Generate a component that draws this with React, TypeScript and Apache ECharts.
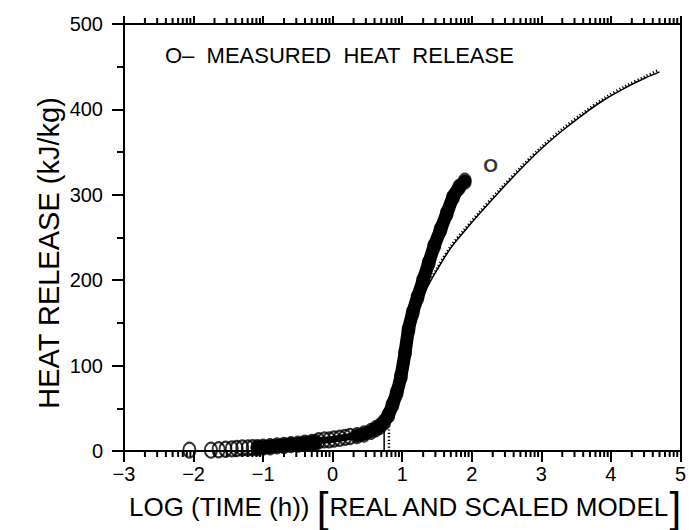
import React, { useEffect, useRef } from "react";
import * as echarts from "echarts";

const xTicks = [-3, -2, -1, 0, 1, 2, 3, 4, 5];
const xTickLabels = ["−3", "−2", "−1", "0", "1", "2", "3", "4", "5"];
const yTicks = [0, 100, 200, 300, 400, 500];
const yTickLabels = ["0", "100", "200", "300", "400", "500"];

// Measured heat release (open circles)
const measuredX = [
  -2.06, -1.75, -1.64, -1.54, -1.45, -1.38, -1.3, -1.22, -1.15, -1.08,
  -1.0, -0.9, -0.8, -0.7, -0.6, -0.5, -0.4, -0.3, -0.25,
  -0.2, -0.12, -0.05, 0.02, 0.1, 0.18, 0.25,
  0.35, 0.45, 0.55, 0.62, 0.68, 0.74, 0.8, 0.86, 0.92, 0.98,
  1.04, 1.09, 1.15, 1.22, 1.3, 1.38, 1.46, 1.55, 1.64, 1.73, 1.82, 1.9,
];
const measuredY = [
  1, 1, 1.5, 2, 2.5, 3, 3.5, 3.5, 4, 4,
  4.5, 5, 6, 6.5, 7.5, 8, 9, 10, 10,
  12, 13, 13, 14, 15, 16, 17,
  18, 20, 23, 26, 29, 34, 42, 54, 68, 87,
  115, 142, 162, 180, 200, 220, 240, 259, 278, 297, 309, 316,
];

// Model curves (solid = real, dotted = scaled)
const modelSolidX = [0.74, 0.74, 0.78, 0.85, 0.92, 1.0, 1.1, 1.2, 1.35, 1.5, 1.7, 1.9, 2.1, 2.4, 2.7, 3.0, 3.3, 3.6, 3.9, 4.2, 4.5, 4.7];
const modelSolidY = [0, 30, 45, 65, 85, 108, 137, 160, 190, 212, 238, 258, 277, 304, 330, 354, 375, 394, 411, 425, 437, 444];
const modelDottedX = [0.81, 0.81, 0.84, 0.9, 0.96, 1.02, 1.1, 1.2, 1.35, 1.5, 1.7, 1.9, 2.1, 2.4, 2.7, 3.0, 3.3, 3.6, 3.9, 4.2, 4.5, 4.68];
const modelDottedY = [0, 38, 55, 75, 95, 115, 140, 162, 192, 214, 240, 260, 279, 306, 332, 356, 377, 396, 413, 427, 439, 446];

// Log-decade minor tick positions (fraction of a decade: log10 of 2..9)
const minorTickFractions = [0.301, 0.477, 0.602, 0.699, 0.778, 0.845, 0.903, 0.954];

const curveLabelX = [2.27];
const curveLabelY = [334];
const curveLabelText = ["O"];

const legendText = "O–  MEASURED  HEAT  RELEASE";
const xTitleMain = "LOG (TIME (h))";
const xTitleBracketed = "REAL AND SCALED MODEL";
const yTitle = "HEAT RELEASE (kJ/kg)";

// x ranges where the measured circles merge into a solid band, with band width
const denseSegments = [
  { from: -1.08, to: -0.25, width: 14 },
  { from: -0.25, to: 0.35, width: 7 },
  { from: 0.35, to: 1.95, width: 13 },
];

const FONT = "Liberation Sans";

export default function App() {
  const ref = useRef<HTMLDivElement>(null);

  useEffect(() => {
    document.body.style.margin = "0";
    if (!ref.current) return;
    const chart = echarts.init(ref.current, null, { renderer: "svg" });

    const minorVals: number[] = [];
    for (let d = -3; d < 5; d++) {
      for (const f of minorTickFractions) minorVals.push(d + f);
    }

    const measuredPts = measuredX.map((x, i) => [x, measuredY[i]]);
    const segSeries = denseSegments.map((seg) => ({
      type: "line",
      data: measuredPts.filter((p) => p[0] >= seg.from && p[0] <= seg.to),
      showSymbol: false,
      symbol: "none",
      smooth: 0.3,
      lineStyle: { color: "#000", width: seg.width, cap: "round", join: "round" },
      z: 2,
    }));

    const axisCommon = {
      type: "value",
      min: -3,
      max: 5,
      interval: 1,
      splitLine: { show: false },
    };

    const textGraphics: any[] = [
      {
        type: "text",
        x: 165,
        y: 55,
        style: {
          text: legendText,
          fontSize: 22,
          fontFamily: FONT,
          fill: "#000",
          verticalAlign: "middle",
        },
      },
      {
        type: "text",
        x: 49,
        y: 253,
        rotation: Math.PI / 2,
        style: {
          text: yTitle,
          fontSize: 29,
          fontFamily: FONT,
          fill: "#000",
          align: "center",
          verticalAlign: "middle",
        },
      },
      {
        type: "text",
        x: 405,
        y: 507,
        style: {
          text: xTitleMain + " {br|[}" + xTitleBracketed + "{br|]}",
          fontSize: 26,
          fontFamily: FONT,
          fill: "#000",
          align: "center",
          verticalAlign: "middle",
          rich: {
            br: { fontSize: 42, fontFamily: FONT, fill: "#000" },
          },
        },
      },
    ];

    chart.setOption({
      animation: false,
      backgroundColor: "#fff",
      grid: { left: 124, right: 2, top: 24, bottom: 79, containLabel: false },
      xAxis: [
        {
          ...axisCommon,
          position: "bottom",
          axisLine: { show: true, onZero: false, lineStyle: { color: "#000", width: 2 } },
          axisTick: { show: true, inside: false, length: 11, lineStyle: { color: "#000", width: 2 } },
          axisLabel: {
            show: true,
            margin: 13,
            color: "#000",
            fontSize: 20,
            fontFamily: FONT,
            formatter: (v: number) => {
              const i = xTicks.indexOf(Math.round(v));
              return i >= 0 ? xTickLabels[i] : "";
            },
          },
        },
        {
          ...axisCommon,
          position: "top",
          axisLine: { show: true, onZero: false, lineStyle: { color: "#000", width: 2 } },
          axisLabel: { show: false },
          axisTick: { show: true, inside: false, length: 8, lineStyle: { color: "#000", width: 2 } },
        },
      ],
      yAxis: [
        {
          type: "value",
          min: 0,
          max: 500,
          interval: 100,
          position: "left",
          splitLine: { show: false },
          axisLine: { show: true, onZero: false, lineStyle: { color: "#000", width: 2 } },
          axisTick: { show: true, inside: false, length: 12, lineStyle: { color: "#000", width: 2 } },
          minorTick: { show: true, splitNumber: 2, length: 7, lineStyle: { color: "#000", width: 2 } },
          axisLabel: {
            margin: 21,
            color: "#000",
            fontSize: 20,
            fontFamily: FONT,
            formatter: (v: number) => {
              const i = yTicks.indexOf(Math.round(v));
              return i >= 0 ? yTickLabels[i] : "";
            },
          },
        },
        {
          type: "value",
          min: 0,
          max: 500,
          interval: 100,
          position: "right",
          splitLine: { show: false },
          axisLine: { show: true, onZero: false, lineStyle: { color: "#000", width: 2 } },
          axisTick: { show: false },
          axisLabel: { show: false },
        },
      ],
      series: [
        ...segSeries,
        {
          type: "scatter",
          data: measuredPts,
          symbol: "circle",
          symbolSize: [12, 15],
          itemStyle: { color: "rgba(255,255,255,0)", borderColor: "#000", borderWidth: 2 },
          z: 3,
        },
        {
          type: "line",
          data: modelSolidX.map((x, i) => [x, modelSolidY[i]]),
          showSymbol: false,
          symbol: "none",
          smooth: 0.3,
          lineStyle: { color: "#000", width: 1.5 },
          z: 4,
        },
        {
          type: "line",
          data: modelDottedX.map((x, i) => [x, modelDottedY[i]]),
          showSymbol: false,
          symbol: "none",
          smooth: 0.3,
          lineStyle: { color: "#000", width: 2.5, type: [1.2, 2.2] },
          z: 4,
        },
        {
          type: "scatter",
          data: curveLabelX.map((x, i) => [x, curveLabelY[i]]),
          symbolSize: 0,
          label: {
            show: true,
            position: "inside",
            formatter: (p: any) => curveLabelText[p.dataIndex],
            color: "#000",
            fontSize: 19,
            fontWeight: "bold",
            fontFamily: FONT,
          },
          z: 5,
        },
        {
          type: "scatter",
          clip: false,
          silent: true,
          data: minorVals.map((v) => [v, 500]),
          symbol: "rect",
          symbolSize: [2, 6],
          symbolOffset: [0, -3],
          itemStyle: { color: "#000", opacity: 1 },
          z: 6,
        },
      ],
      graphic: textGraphics,
    });

    // bottom log minor ticks placed through the axis scale
    const yBottom = chart.convertToPixel({ yAxisIndex: 0 }, 0) as number;
    const bottomTicks = minorVals.map((v) => {
      const px = chart.convertToPixel({ xAxisIndex: 0 }, v) as number;
      return {
        type: "rect",
        silent: true,
        z: 100,
        shape: { x: px - 1, y: yBottom, width: 2, height: 6 },
        style: { fill: "#000" },
      };
    });
    chart.setOption({ graphic: [...textGraphics, ...bottomTicks] });

    return () => chart.dispose();
  }, []);

  return (
    <div
      ref={ref}
      style={{ position: "absolute", left: 0, top: 0, width: 689, height: 530 }}
    />
  );
}
